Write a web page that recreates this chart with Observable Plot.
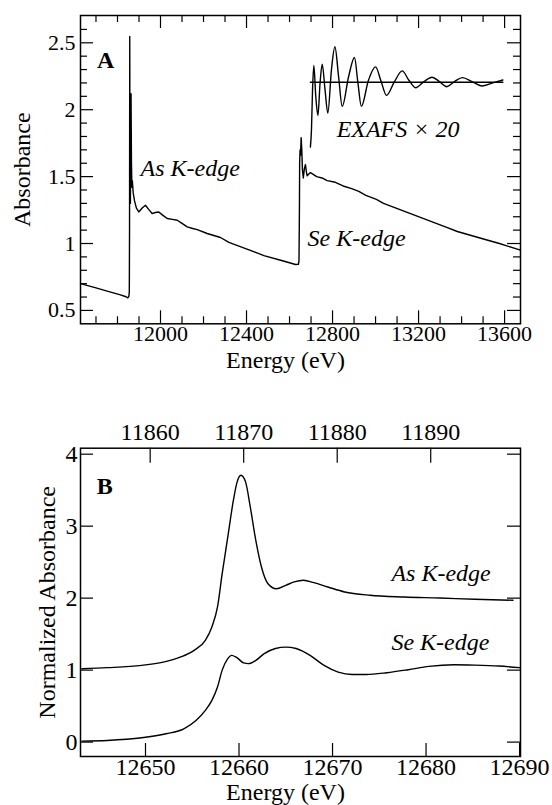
<!DOCTYPE html>
<html><head><meta charset="utf-8">
<script src="https://cdn.jsdelivr.net/npm/d3@7"></script>
<script src="https://cdn.jsdelivr.net/npm/@observablehq/plot@0.6"></script>
<style>
html,body{margin:0;padding:0;background:#fff;}
#chart svg{display:block;}
#chart svg, #chart svg text{font-family:"Liberation Serif","Times New Roman",Times,"DejaVu Serif","Noto Serif",serif !important;}
</style></head><body><div id="chart"></div>
<script>
// ---------- Panel A data: full spectrum (Energy eV, Absorbance) ----------
const spectrumE = [11628,11700,11760,11810,11840,11848,11853,11855,11856,11857,11858,11860,11862,11863,11865,11867,11869,11873,11879,11888,11899,11915,11930,11945,11961,11976,11992,12010,12031,12055,12078,12100,12124,12150,12171,12217,12279,12318,12399,12481,12563,12628,12641,12644,12646,12647,12649,12651,12654,12657,12660,12664,12669,12674,12678,12682,12690,12697,12712,12726,12751,12775,12808,12849,12889,12922,12955,13004,13037,13086,13135,13184,13233,13282,13331,13380,13445,13510,13576,13674];
const spectrumAbs = [0.700,0.668,0.641,0.618,0.602,0.594,0.605,0.640,1.100,2.547,1.500,1.300,1.700,2.120,1.600,1.420,1.470,1.380,1.320,1.265,1.236,1.265,1.286,1.255,1.224,1.232,1.236,1.212,1.187,1.180,1.174,1.150,1.124,1.112,1.104,1.075,1.045,1.009,0.960,0.910,0.873,0.843,0.845,0.870,1.250,1.600,1.700,1.660,1.790,1.700,1.550,1.490,1.560,1.590,1.540,1.506,1.520,1.530,1.515,1.500,1.490,1.470,1.460,1.430,1.410,1.390,1.360,1.330,1.300,1.270,1.240,1.210,1.180,1.150,1.120,1.090,1.060,1.030,1.000,0.950];
// EXAFS x 20 (offset trace)
const exafsE = [12697,12702,12707,12713,12722,12732,12742,12752,12765,12778,12795,12811,12828,12845,12875,12902,12918,12934,12967,13000,13026,13051,13088,13124,13155,13186,13225,13263,13297,13331,13367,13404,13449,13494,13545,13592];
const exafsAbs = [1.72,1.85,2.15,2.33,2.10,1.957,2.20,2.34,2.15,1.975,2.30,2.47,2.25,2.025,2.25,2.39,2.20,2.025,2.22,2.32,2.21,2.107,2.21,2.29,2.22,2.164,2.21,2.243,2.21,2.172,2.21,2.24,2.21,2.177,2.20,2.222];
const exafsBaselineE = [12697, 13592];
const exafsBaselineAbs = [2.205, 2.205];

// ---------- Panel B data: XANES (Se energy scale), normalized ----------
const asE = [12643.2,12645.9,12649.6,12651.9,12653.7,12655.2,12656.4,12657.1,12657.7,12658.2,12658.8,12659.4,12659.8,12660.2,12660.7,12661.2,12661.8,12662.4,12663.1,12664.0,12665.0,12665.9,12666.9,12668.0,12669.5,12671.3,12674.0,12677.7,12681.5,12685.2,12689.3];
const asNorm = [1.02,1.034,1.066,1.112,1.18,1.275,1.414,1.60,1.877,2.34,2.85,3.36,3.615,3.708,3.615,3.27,2.80,2.433,2.20,2.13,2.178,2.225,2.248,2.215,2.155,2.086,2.04,2.016,2.002,1.984,1.97];
const seE = [12643.2,12645.9,12649.6,12652.2,12654.1,12655.4,12656.4,12657.1,12657.7,12658.2,12658.8,12659.2,12659.7,12660.5,12661.0,12661.8,12662.7,12663.9,12665.0,12666.1,12667.6,12669.1,12670.6,12672.1,12673.6,12675.8,12678.1,12680.3,12683.0,12685.2,12687.8,12690.0];
const seNorm = [0.014,0.023,0.06,0.116,0.185,0.30,0.44,0.58,0.765,1.0,1.16,1.205,1.18,1.10,1.09,1.135,1.23,1.30,1.32,1.30,1.205,1.066,0.973,0.94,0.94,0.964,1.006,1.052,1.075,1.07,1.057,1.034];

// ---------- ticks & labels ----------
const aXMajor = [12000, 12400, 12800, 13200, 13600];
const aXMinor = [11700, 11800, 11900, 12100, 12200, 12300, 12500, 12600, 12700, 12900, 13000, 13100, 13300, 13400, 13500];
const aYMajor = [0.5, 1, 1.5, 2, 2.5];
const aYMinor = [0.6, 0.7, 0.8, 0.9, 1.1, 1.2, 1.3, 1.4, 1.6, 1.7, 1.8, 1.9, 2.1, 2.2, 2.3, 2.4, 2.6];
const bXMajor = [12650, 12660, 12670, 12680, 12690];
const bYMajor = [0, 1, 2, 3, 4];
const bTopLabels = [11860, 11870, 11880, 11890];   // As K-edge energies
const edgeShift = 790.5;                           // Se edge minus As edge (eV)

const annotationsA = [
  {label: "A", E: 11705, v: 2.371, bold: true},
  {label: "As K-edge", E: 11907, v: 1.56},
  {label: "Se K-edge", E: 12684, v: 1.037},
  {label: "EXAFS × 20", E: 12819, v: 1.851}
];
const annotationsB = [
  {label: "B", E: 12644.8, v: 3.557, bold: true},
  {label: "As K-edge", E: 12676.3, v: 2.339},
  {label: "Se K-edge", E: 12676.3, v: 1.38}
];

// ---------- layout ----------
const W = 552, ML = 80, MR = 32;
const innerW = W - ML - MR;
const serif = "Liberation Serif, Times New Roman, Times, DejaVu Serif, serif";
const pair = (xs, ys) => xs.map((x, i) => [x, ys[i]]);

function frameTicks(xTicks, yTicks, len, innerH, sides) {
  const m = [];
  if (xTicks) {
    if (sides.includes("b")) m.push(Plot.ruleX(xTicks, {x: d => d, insetTop: innerH - len, strokeWidth: 1.2}));
    if (sides.includes("t")) m.push(Plot.ruleX(xTicks, {x: d => d, insetBottom: innerH - len, strokeWidth: 1.2}));
  }
  if (yTicks) {
    if (sides.includes("l")) m.push(Plot.ruleY(yTicks, {y: d => d, insetRight: innerW - len, strokeWidth: 1.2}));
    if (sides.includes("r")) m.push(Plot.ruleY(yTicks, {y: d => d, insetLeft: innerW - len, strokeWidth: 1.2}));
  }
  return m;
}

function annotationMarks(list) {
  return list.map(a => Plot.text([a], {
    x: "E", y: "v", text: "label", textAnchor: "start", lineAnchor: "middle",
    fontFamily: serif, fontSize: 24, fontWeight: a.bold ? "bold" : "normal",
    fontStyle: a.bold ? "normal" : "italic", fill: "black"
  }));
}

function axisTitle(label, opts) {
  return Plot.text([label], {text: d => d, textAnchor: "middle", lineAnchor: "middle",
    fontFamily: serif, fontSize: 24, fill: "black", ...opts});
}

// ---------- Panel A ----------
const aH = 380, aTop = 15, aBottom = 56.7;
const aInnerH = aH - aTop - aBottom;
const plotA = Plot.plot({
  width: W, height: aH, marginTop: aTop, marginBottom: aBottom, marginLeft: ML, marginRight: MR,
  style: {background: "white", color: "black"},
  x: {domain: [11628, 13674]},
  y: {domain: [0.4, 2.704]},
  marks: [
    ...frameTicks(aXMajor, aYMajor, 13, aInnerH, "btlr"),
    ...frameTicks(aXMinor, aYMinor, 7, aInnerH, "btlr"),
    Plot.axisX(aXMajor, {anchor: "bottom", tickSize: 0, tickPadding: 2, fontSize: 22, fontFamily: serif, label: null, tickFormat: d => String(d)}),
    Plot.axisY(aYMajor, {anchor: "left", tickSize: 0, tickPadding: 5, fontSize: 22, fontFamily: serif, label: null, tickFormat: d => String(d)}),
    Plot.line(pair(spectrumE, spectrumAbs), {strokeWidth: 1.4, stroke: "black"}),
    Plot.line(pair(exafsBaselineE, exafsBaselineAbs), {strokeWidth: 1.4, stroke: "black"}),
    Plot.line(pair(exafsE, exafsAbs), {curve: "monotone-x", strokeWidth: 1.4, stroke: "black"}),
    ...annotationMarks(annotationsA),
    Plot.frame({stroke: "black", strokeWidth: 1.5}),
    axisTitle("Energy (eV)", {frameAnchor: "bottom", dy: 37, dx: -15}),
    axisTitle("Absorbance", {frameAnchor: "left", rotate: -90, dx: -58})
  ]
});

// ---------- Panel B ----------
const bH = 425, bTop = 67.7, bBottom = 49;
const bInnerH = bH - bTop - bBottom;
const bTopPos = bTopLabels.map(t => t + edgeShift);
const plotB = Plot.plot({
  width: W, height: bH, marginTop: bTop, marginBottom: bBottom, marginLeft: ML, marginRight: MR,
  style: {background: "white", color: "black"},
  x: {domain: [12643.05, 12690.1]},
  y: {domain: [-0.2, 4.083]},
  marks: [
    ...frameTicks(bXMajor, bYMajor, 13, bInnerH, "blr"),
    ...frameTicks(bTopPos, null, 15, bInnerH, "t"),
    Plot.axisX(bXMajor, {anchor: "bottom", tickSize: 0, tickPadding: 1, fontSize: 24, fontFamily: serif, label: null, tickFormat: d => String(d)}),
    Plot.axisX(bTopPos, {anchor: "top", tickSize: 0, tickPadding: 8, fontSize: 24, fontFamily: serif, label: null, tickFormat: d => String(Math.round(d - edgeShift))}),
    Plot.axisY(bYMajor, {anchor: "left", tickSize: 0, tickPadding: 3, fontSize: 24, fontFamily: serif, label: null, tickFormat: d => String(d)}),
    Plot.line(pair(asE, asNorm), {curve: "monotone-x", strokeWidth: 1.4, stroke: "black"}),
    Plot.line(pair(seE, seNorm), {curve: "monotone-x", strokeWidth: 1.4, stroke: "black"}),
    ...annotationMarks(annotationsB),
    Plot.frame({stroke: "black", strokeWidth: 1.5}),
    axisTitle("Energy (eV)", {frameAnchor: "bottom", dy: 36, dx: -15}),
    axisTitle("Normalized Absorbance", {frameAnchor: "left", rotate: -90, dx: -33.5})
  ]
});

const root = document.getElementById("chart");
root.append(plotA, plotB);
</script></body></html>
